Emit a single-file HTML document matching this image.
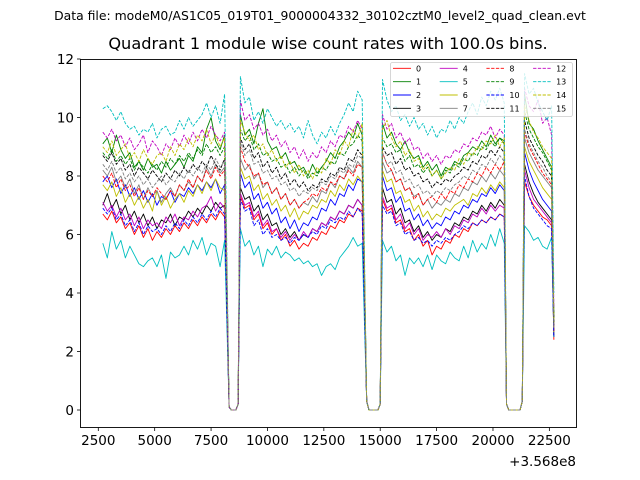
<!DOCTYPE html>
<html><head><meta charset="utf-8"><style>
html,body{margin:0;padding:0;background:#fff;}
svg{display:block;font-family:"DejaVu Sans","Liberation Sans",sans-serif;}
</style></head><body>
<svg id="chart" width="640" height="480" viewBox="0 0 640 480">
<text x="320" y="20" font-size="12.4" text-anchor="middle">Data file: modeM0/AS1C05_019T01_9000004332_30102cztM0_level2_quad_clean.evt</text>
<text x="328" y="49" font-size="16.2" text-anchor="middle">Quadrant 1 module wise count rates with 100.0s bins.</text>
<g id="plot"></g>
<rect x="80.5" y="59.5" width="496" height="368" fill="none" stroke="#000" stroke-width="0.9"/>
<g id="xticks"></g>
<g id="yticks"></g>
<text x="576" y="466" font-size="13.5" text-anchor="end">+3.568e8</text>
<g id="legend"></g>
</svg>
<script>
const times = [2700,2900,3100,3300,3500,3700,3900,4100,4300,4500,4700,4900,5100,5300,5500,5700,5900,6100,6300,6500,6700,6900,7100,7300,7500,7700,7900,8100,
8300,8400,8600,8700,
8800,9000,9200,9400,9600,9800,10000,10200,10400,10600,10800,11000,11200,11400,11600,11800,12000,12200,12400,12600,12800,13000,13200,13400,13600,13800,14000,14200,
14400,14500,14900,15000,
15100,15300,15500,15700,15900,16100,16300,16500,16700,16900,17100,17300,17500,17700,17900,18100,18300,18500,18700,18900,19100,19300,19500,19700,19900,20100,20300,20500,
20600,20700,21200,21300,
21400,21600,21800,22000,22200,22400,22600,22700];
const xTicks = [2500,5000,7500,10000,12500,15000,17500,20000,22500];
const yTicks = [0,2,4,6,8,10,12];
const s0 = [6.7,6.5,6.8,6.4,6.6,6.2,6.4,6.0,6.3,5.9,6.2,5.8,6.1,5.9,6.2,6.0,6.3,6.1,6.4,6.2,6.5,6.3,6.6,6.4,6.7,6.5,6.8,6.6, 0.1,0,0,0.2,
7.3,6.9,7.0,6.5,6.7,6.2,6.4,6.0,6.2,5.8,6.0,5.6,5.8,5.5,5.7,5.6,5.9,5.8,6.1,6.0,6.3,6.2,6.5,6.4,6.7,6.6,6.9,6.8, 0.3,0,0,0.2,
7.2,6.8,6.9,6.4,6.5,6.1,6.2,5.8,6.0,5.6,5.8,5.3,5.6,5.5,5.8,5.7,6.0,5.9,6.2,6.1,6.4,6.3,6.5,6.4,6.6,6.5,6.7,6.6, 0.2,0,0,0.3,
7.8,7.3,7.0,6.8,6.6,6.5,6.3,2.4];
const s1 = [9.1,9.3,8.8,9.4,8.9,8.6,8.8,8.3,8.5,8.2,8.6,8.3,8.4,8.1,8.5,8.2,8.4,8.6,8.3,8.7,8.5,9.0,8.8,9.6,10.0,9.2,8.9,9.4, 0.1,0,0,0.2,
10.1,9.4,9.6,9.1,9.8,10.3,9.2,8.9,9.0,8.6,8.8,8.4,8.5,8.2,8.3,8.0,8.4,8.1,8.3,8.5,8.8,8.6,9.0,9.2,9.5,9.3,9.8,9.4, 0.3,0,0,0.2,
9.8,9.3,9.5,9.1,8.9,9.2,8.8,8.6,8.7,8.3,8.5,8.2,8.4,8.0,8.3,8.2,8.5,8.4,8.7,8.8,9.0,8.9,9.2,9.0,9.4,9.1,9.3,9.2, 0.2,0,0,0.3,
10.8,9.8,9.6,9.2,8.9,8.6,8.3,3.2];
const s2 = [7.8,8.0,7.6,7.9,7.4,7.7,7.3,7.6,7.2,7.5,7.1,7.4,7.0,7.3,7.2,7.5,7.1,7.4,7.3,7.6,7.4,7.7,7.5,7.8,7.6,7.9,7.4,7.7, 0.1,0,0,0.2,
8.1,7.6,7.8,7.2,7.4,6.9,7.1,6.7,6.9,6.4,6.6,6.2,6.5,6.1,6.4,6.3,6.6,6.5,6.9,6.8,7.2,7.0,7.4,7.3,7.7,7.5,7.9,7.8, 0.3,0,0,0.2,
8.0,7.5,7.6,7.1,7.3,6.8,6.9,6.5,6.7,6.3,6.5,6.2,6.4,6.3,6.6,6.5,6.8,6.7,7.0,6.9,7.2,7.1,7.4,7.3,7.6,7.4,7.7,7.5, 0.2,0,0,0.3,
8.8,8.2,7.8,7.5,7.2,7.0,6.8,2.5];
const s3 = [7.0,7.4,6.9,7.2,6.7,7.0,6.5,6.8,6.4,6.7,6.3,6.6,6.2,6.5,6.4,6.7,6.3,6.6,6.5,6.8,6.6,6.9,6.7,7.0,6.8,7.1,6.9,7.0, 0.1,0,0,0.2,
7.6,7.2,7.3,6.8,7.0,6.5,6.7,6.3,6.4,6.0,6.2,5.9,6.1,5.8,6.0,5.9,6.2,6.1,6.4,6.3,6.6,6.5,6.8,6.7,7.0,6.9,7.2,7.0, 0.3,0,0,0.2,
7.6,7.1,7.2,6.7,6.9,6.4,6.5,6.1,6.3,5.9,6.1,5.8,6.0,5.9,6.2,6.1,6.4,6.3,6.6,6.5,6.8,6.7,7.0,6.8,7.1,6.9,7.2,7.0, 0.2,0,0,0.3,
8.4,7.8,7.4,7.1,6.9,6.7,6.5,2.5];
const s4 = [7.1,6.8,7.0,6.6,6.9,6.5,6.7,6.3,6.6,6.2,6.5,6.3,6.4,6.2,6.6,6.4,6.7,6.3,6.6,6.5,6.8,6.6,6.9,7.0,7.3,6.8,7.1,6.9, 0.1,0,0,0.2,
7.4,7.0,7.1,6.6,6.8,6.3,6.5,6.1,6.2,5.9,6.1,5.8,6.0,5.8,6.1,5.9,6.2,6.1,6.4,6.3,6.6,6.5,6.8,6.7,7.0,6.9,7.2,7.0, 0.3,0,0,0.2,
7.3,6.9,7.0,6.5,6.7,6.2,6.4,6.0,6.2,5.8,6.0,5.9,6.1,5.9,6.2,6.0,6.3,6.2,6.5,6.4,6.7,6.6,6.9,6.7,7.0,6.8,7.0,6.9, 0.2,0,0,0.3,
8.2,7.6,7.2,7.0,6.8,6.6,6.4,2.5];
const s5 = [5.7,5.2,6.1,5.5,5.8,5.2,5.6,5.3,5.0,4.9,5.1,5.2,4.9,5.3,4.5,5.4,5.2,5.3,5.6,5.3,5.8,5.5,5.9,5.3,5.7,5.6,4.9,5.8, 0.1,0,0,0.2,
6.2,5.6,5.8,5.3,5.6,4.9,5.5,5.3,5.6,5.2,5.4,5.3,5.1,5.2,5.0,5.1,4.9,5.0,4.6,4.9,5.0,4.8,5.2,5.4,5.6,5.9,5.6,5.7, 0.3,0,0,0.2,
5.8,5.4,5.6,5.1,5.3,4.6,5.2,5.0,5.2,4.9,5.3,4.8,5.3,5.1,5.0,5.4,5.2,5.1,5.6,5.2,5.8,5.4,5.7,5.5,6.0,5.6,6.2,5.7, 0.2,0,0,0.3,
6.3,6.1,5.8,5.9,5.6,5.5,5.9,2.5];
const s6 = [7.7,7.5,7.8,7.3,7.6,7.1,7.4,7.0,7.3,6.9,7.2,6.8,7.5,7.0,7.3,6.9,7.2,7.4,7.1,7.5,7.3,7.7,7.4,7.8,7.5,7.9,7.6,7.5, 0.1,0,0,0.2,
8.3,7.9,8.0,7.5,7.7,7.2,7.4,7.0,7.2,6.8,7.0,6.6,6.9,6.5,6.8,6.7,7.0,6.9,7.2,7.1,7.5,7.3,7.7,7.5,7.9,7.7,8.0,7.8, 0.3,0,0,0.2,
8.2,7.8,7.9,7.4,7.5,7.1,7.2,6.8,7.0,6.6,6.8,6.5,6.7,6.6,6.9,6.8,7.0,7.1,7.2,7.0,7.4,7.3,7.6,7.4,7.7,7.5,7.8,7.6, 0.2,0,0,0.3,
9.0,8.5,8.2,7.9,7.6,7.4,7.2,2.6];
const s7 = [8.2,8.0,8.3,7.8,8.0,7.6,7.9,7.4,7.7,7.2,7.6,7.3,7.5,7.1,7.4,7.6,7.3,7.7,7.5,7.8,7.6,8.0,7.8,8.3,8.0,8.4,8.1,8.3, 0.1,0,0,0.2,
8.6,8.2,8.4,7.9,8.1,7.6,7.8,7.4,7.6,7.2,7.4,7.0,7.2,6.9,7.1,7.0,7.3,7.1,7.5,7.4,7.8,7.6,8.0,7.9,8.3,8.1,8.5,8.3, 0.3,0,0,0.2,
8.5,8.1,8.2,7.8,7.9,7.5,7.6,7.3,7.4,7.0,7.2,6.9,7.1,7.0,7.2,7.1,7.4,7.3,7.6,7.5,7.8,7.7,8.0,7.8,8.1,7.9,8.2,8.0, 0.2,0,0,0.3,
9.3,8.8,8.5,8.2,8.0,7.8,7.6,2.7];
const s8 = [8.0,7.8,8.1,7.6,7.9,7.5,7.7,7.3,7.6,7.2,7.5,7.3,7.6,7.4,7.2,7.5,7.3,7.7,7.5,7.9,7.6,8.0,7.8,8.2,7.9,8.3,8.0,8.2, 0.1,0,0,0.2,
9.0,8.5,8.3,8.0,8.1,7.7,7.8,7.4,7.6,7.2,7.4,7.0,7.2,6.9,7.1,7.2,7.4,7.3,7.6,7.5,7.8,7.7,8.0,7.9,8.2,8.0,8.4,8.3, 0.3,0,0,0.2,
8.8,8.4,8.2,7.8,7.9,7.5,7.6,7.2,7.4,7.0,7.2,7.3,7.1,7.4,7.2,7.5,7.4,7.7,7.6,7.9,7.8,8.1,8.0,8.3,8.1,8.4,8.2,8.5, 0.2,0,0,0.3,
9.5,9.0,8.7,8.4,8.1,7.9,7.7,2.7];
const s9 = [8.8,8.6,8.9,8.5,8.7,8.4,8.6,8.2,8.5,8.3,8.1,8.4,8.2,8.5,8.3,8.6,8.4,8.7,8.5,8.8,8.6,8.9,8.7,9.1,8.8,9.0,8.7,9.0, 0.1,0,0,0.2,
9.6,9.2,9.4,8.9,9.1,8.7,8.8,8.5,8.6,8.3,8.4,8.1,8.3,8.0,8.2,7.9,8.1,8.0,8.3,8.2,8.5,8.4,8.8,8.7,9.0,9.1,9.4,9.2, 0.3,0,0,0.2,
9.3,9.0,9.1,8.8,8.9,8.5,8.7,8.3,8.4,8.1,8.3,8.0,8.2,7.9,8.2,8.1,8.4,8.3,8.6,8.5,8.8,8.7,9.0,8.9,9.2,9.0,9.3,9.1, 0.2,0,0,0.3,
10.2,9.6,9.3,9.0,8.8,8.5,8.2,3.0];
const s10 = [6.9,6.7,6.9,6.5,6.7,6.3,6.5,6.1,6.4,6.0,6.3,6.1,6.2,6.0,6.3,6.1,6.4,6.2,6.5,6.3,6.6,6.4,6.7,6.5,6.8,6.6,6.9,6.7, 0.1,0,0,0.2,
7.2,6.8,6.9,6.3,6.5,6.0,6.2,5.9,6.0,5.8,5.9,5.7,5.9,5.8,6.0,5.9,6.1,6.0,6.3,6.2,6.5,6.4,6.6,6.5,6.8,6.6,6.9,6.7, 0.3,0,0,0.2,
7.0,6.7,6.8,6.3,6.4,6.0,6.1,5.8,5.9,5.7,5.8,5.6,5.8,5.7,5.9,5.8,6.0,6.1,6.3,6.2,6.4,6.3,6.5,6.4,6.6,6.5,6.7,6.6, 0.2,0,0,0.3,
8.0,7.3,6.9,6.7,6.5,6.3,6.2,2.5];
const s11 = [8.7,8.5,8.8,8.4,8.6,8.2,8.4,8.0,8.3,8.1,7.9,8.2,8.0,7.8,8.1,7.9,8.2,8.0,8.3,8.1,8.4,8.2,8.5,8.3,8.7,8.4,8.2,8.6, 0.1,0,0,0.2,
9.3,8.9,9.1,8.6,8.8,8.3,8.5,8.1,8.3,7.9,8.1,7.7,7.9,7.6,7.8,7.5,7.7,7.6,7.9,7.8,8.1,8.0,8.3,8.2,8.6,8.5,8.9,8.7, 0.3,0,0,0.2,
9.0,8.7,8.8,8.4,8.6,8.2,8.3,8.0,8.1,7.8,7.9,7.6,7.8,7.7,7.9,7.8,8.0,8.1,8.3,8.2,8.5,8.4,8.7,8.6,8.9,8.7,9.0,8.8, 0.2,0,0,0.3,
9.9,9.3,9.0,8.7,8.5,8.2,8.0,2.9];
const s12 = [9.5,9.3,9.6,9.2,9.4,9.0,9.3,8.9,9.1,9.4,8.8,9.2,9.0,8.7,9.1,8.9,9.3,9.0,9.4,9.1,9.5,9.2,9.6,9.3,9.7,9.4,9.2,9.5, 0.1,0,0,0.2,
10.6,9.9,10.1,9.6,9.8,9.4,9.6,9.2,9.4,9.0,9.2,8.8,9.0,8.6,8.9,8.5,8.8,8.6,9.0,8.8,9.2,9.0,9.4,9.3,9.7,9.5,9.9,9.6, 0.3,0,0,0.2,
10.1,9.6,9.8,9.3,9.5,9.1,9.3,8.9,9.0,8.6,8.8,8.5,8.7,8.4,8.7,8.6,8.9,8.8,9.1,9.0,9.3,9.2,9.5,9.4,9.7,9.3,9.6,9.4, 0.2,0,0,0.3,
11.0,10.4,10.2,10.6,9.8,10.0,9.4,3.5];
const s13 = [10.3,10.4,10.2,9.9,10.2,9.8,9.6,9.7,9.4,9.6,9.5,9.8,9.3,9.6,9.7,9.4,9.5,9.9,9.6,10.0,9.7,9.9,10.1,10.5,10.0,10.4,9.8,10.8, 0.1,0,0,0.2,
11.4,10.5,10.7,9.9,10.2,9.8,10.3,10.0,9.7,9.9,9.6,9.8,9.5,9.7,9.3,9.9,9.4,9.1,9.5,9.3,9.7,9.4,9.8,10.1,10.5,10.2,10.9,10.6, 0.3,0,0,0.2,
11.3,10.6,10.2,10.4,9.9,10.1,9.7,10.0,9.6,9.8,9.4,9.7,9.3,9.6,9.5,9.9,9.6,10.0,9.8,10.2,10.5,10.1,10.7,10.4,10.9,10.6,11.0,10.5, 0.2,0,0,0.3,
11.5,10.8,11.0,10.5,10.2,9.9,10.4,4.0];
const s14 = [9.0,8.8,9.2,8.7,8.9,9.1,8.6,8.8,8.5,8.9,8.6,8.4,8.7,8.8,8.5,9.0,8.7,9.1,8.9,9.3,9.0,9.4,9.2,9.6,9.1,9.4,9.0,9.3, 0.1,0,0,0.2,
9.9,9.5,9.2,9.4,8.9,9.1,8.7,8.9,8.5,8.7,8.3,8.5,8.1,8.4,8.0,8.2,7.9,8.3,8.1,8.6,8.4,8.9,8.7,9.2,9.0,9.6,9.3,9.8, 0.3,0,0,0.2,
9.6,9.9,9.3,9.0,9.2,8.7,8.9,8.5,8.6,8.2,8.4,8.0,8.2,7.9,8.1,8.3,8.2,8.6,8.4,8.8,8.7,9.0,8.9,9.2,9.1,9.4,9.0,9.3, 0.2,0,0,0.3,
10.4,9.9,9.5,9.3,9.0,8.8,8.6,3.0];
const s15 = [8.4,8.2,8.5,8.1,8.3,7.9,8.1,7.8,8.0,7.7,7.9,7.6,7.8,8.0,7.7,7.9,7.8,8.1,7.9,8.2,8.0,8.3,8.1,8.4,8.2,8.6,8.3,8.5, 0.1,0,0,0.2,
9.2,8.7,8.9,8.4,8.5,8.1,8.2,7.9,8.0,7.7,7.8,7.5,7.6,7.3,7.5,7.4,7.6,7.5,7.8,7.7,8.0,7.9,8.2,8.1,8.4,8.3,8.7,8.6, 0.3,0,0,0.2,
8.8,8.4,8.5,8.1,8.2,7.8,7.9,7.6,7.7,7.4,7.5,7.3,7.5,7.4,7.6,7.5,7.7,7.8,8.0,7.9,8.2,8.1,8.4,8.3,8.6,8.4,8.7,8.5, 0.2,0,0,0.3,
9.6,9.1,8.8,8.5,8.3,8.0,7.8,2.8];
const seriesLabels = ["0","1","2","3","4","5","6","7","8","9","10","11","12","13","14","15"];
const seriesValues = [s0,s1,s2,s3,s4,s5,s6,s7,s8,s9,s10,s11,s12,s13,s14,s15];

const colors = ["#ff0000","#008000","#0000ff","#000000","#bf00bf","#00bfbf","#bfbf00","#808080"];
const NS = "http://www.w3.org/2000/svg";
function xScale(v){ return 98.3 + (v - 2500) * 0.022553; }
function yScale(v){ return 410 - v * 29.25; }

const plot = document.getElementById('plot');
seriesValues.forEach((vals, i) => {
  const p = document.createElementNS(NS, 'path');
  let d = '';
  vals.forEach((v, j) => { d += (j ? 'L' : 'M') + xScale(times[j]).toFixed(2) + ',' + yScale(v).toFixed(2); });
  p.setAttribute('d', d);
  p.setAttribute('fill', 'none');
  p.setAttribute('stroke', colors[i % 8]);
  p.setAttribute('stroke-width', '0.9');
  p.setAttribute('stroke-linejoin', 'round');
  if (i >= 8) p.setAttribute('stroke-dasharray', '3.3,1.45');
  
  
  plot.appendChild(p);
});

const xg = document.getElementById('xticks');
xTicks.forEach(t => {
  const x = xScale(t);
  const l = document.createElementNS(NS, 'line');
  l.setAttribute('x1', x); l.setAttribute('x2', x); l.setAttribute('y1', 427.5); l.setAttribute('y2', 431);
  l.setAttribute('stroke', '#000'); l.setAttribute('stroke-width', '0.8');
  
  
  xg.appendChild(l);
  const tx = document.createElementNS(NS, 'text');
  tx.setAttribute('x', x); tx.setAttribute('y', 445); tx.setAttribute('font-size', '13.5'); tx.setAttribute('text-anchor', 'middle');
  tx.textContent = t;
  
  
  xg.appendChild(tx);
});
const yg = document.getElementById('yticks');
yTicks.forEach(t => {
  const y = yScale(t);
  const l = document.createElementNS(NS, 'line');
  l.setAttribute('x1', 77); l.setAttribute('x2', 80.5); l.setAttribute('y1', y); l.setAttribute('y2', y);
  l.setAttribute('stroke', '#000'); l.setAttribute('stroke-width', '0.8');
  
  
  yg.appendChild(l);
  const tx = document.createElementNS(NS, 'text');
  tx.setAttribute('x', 74); tx.setAttribute('y', y + 5); tx.setAttribute('font-size', '13.5'); tx.setAttribute('text-anchor', 'end');
  tx.textContent = t;
  
  
  yg.appendChild(tx);
});

const lg = document.getElementById('legend');
const box = document.createElementNS(NS, 'rect');
box.setAttribute('x', 390.5); box.setAttribute('y', 62.5); box.setAttribute('width', 182); box.setAttribute('height', 54);
box.setAttribute('rx', 2); box.setAttribute('fill', 'rgba(255,255,255,0.8)'); box.setAttribute('stroke', '#cccccc'); box.setAttribute('stroke-width', '0.8');


lg.appendChild(box);
seriesLabels.forEach((lab, i) => {
  const col = Math.floor(i / 4), row = i % 4;
  const lx = 393 + col * 46.7, ly = 68.3 + row * 13.35;
  const g = document.createElementNS(NS, 'g');
  
  
  const l = document.createElementNS(NS, 'line');
  l.setAttribute('x1', lx); l.setAttribute('x2', lx + 18); l.setAttribute('y1', ly); l.setAttribute('y2', ly);
  l.setAttribute('stroke', colors[i % 8]); l.setAttribute('stroke-width', '0.9');
  if (i >= 8) l.setAttribute('stroke-dasharray', '3.3,1.45');
  g.appendChild(l);
  const tx = document.createElementNS(NS, 'text');
  tx.setAttribute('x', lx + 23); tx.setAttribute('y', ly + 3); tx.setAttribute('font-size', '8');
  tx.textContent = lab;
  g.appendChild(tx);
  lg.appendChild(g);
});
</script>
</body></html>
